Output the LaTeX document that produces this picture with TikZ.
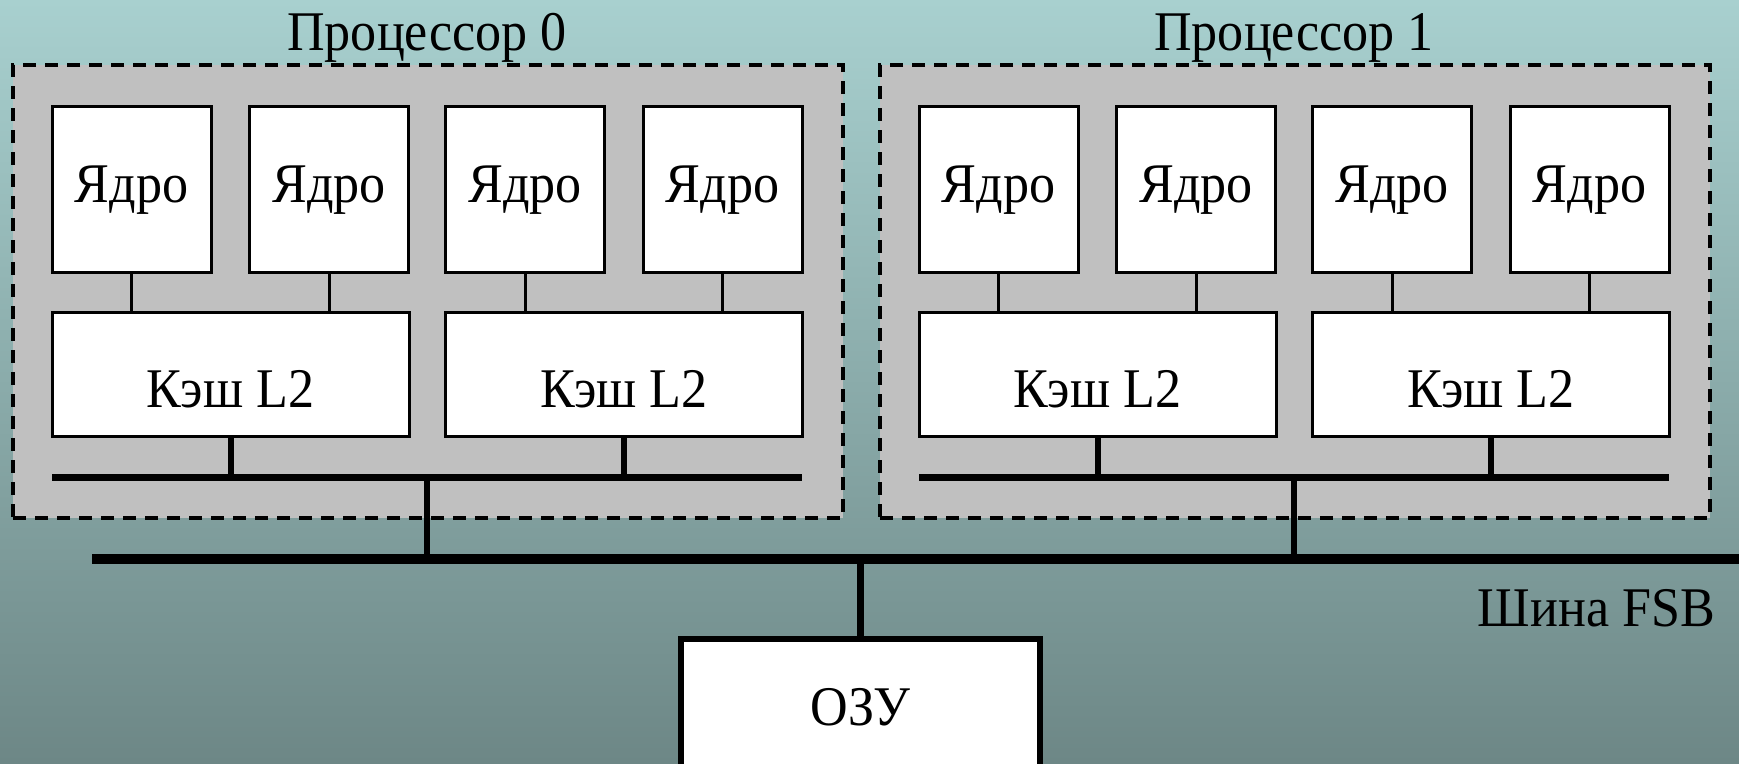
\documentclass[tikz,border=0pt]{standalone}
\usepackage{fontspec}
\setmainfont[FakeStretch=0.93]{Liberation Serif}
\definecolor{bgtop}{HTML}{A8D0CF}
\definecolor{bgbot}{HTML}{6D8786}
\definecolor{procgray}{HTML}{C0C0C0}
\begin{document}
\begin{tikzpicture}[x=1pt,y=-1pt,
  every node/.style={font=\fontsize{56}{62}\selectfont, inner sep=0pt, outer sep=0pt},
  procbox/.style={draw=black, fill=procgray, line width=4.5pt, dash pattern=on 13pt off 9pt, minimum width=830pt, minimum height=453pt},
  corebox/.style={draw=black, fill=white, line width=3pt, minimum width=159pt, minimum height=166pt, text height=36pt, text depth=10pt},
  cachebox/.style={draw=black, fill=white, line width=3pt, minimum width=357pt, minimum height=124pt, text height=66pt, text depth=0pt},
  rambox/.style={draw=black, fill=white, line width=6pt, minimum width=359pt, minimum height=162pt, text height=36pt, text depth=26pt},
  thinlink/.style={draw=black, line width=3pt},
  droplink/.style={draw=black, line width=6pt},
  busline/.style={draw=black, line width=7pt},
  fsbline/.style={draw=black, line width=10pt},
  lbl/.style={anchor=base}
]
\useasboundingbox (0,0) rectangle (1739,763);
\clip (0,0) rectangle (1739,763);
\shade[top color=bgtop, bottom color=bgbot] (0,0) rectangle (1739,763);

% FSB bus
\coordinate (fsbw) at (92,559);
\coordinate (fsbe) at (1739,559);

\foreach \p/\dx in {0/0,1/867}{
  \begin{scope}[shift={(\dx,0)}]
    \node[procbox] (P\p) at (428,291.5) {};
    \node[lbl] (P\p lbl) at (427,50) {Процессор \p};
    \node[corebox] (C\p a) at (131.5,189) {Ядро};
    \node[corebox] (C\p b) at (329,189) {Ядро};
    \node[corebox] (C\p c) at (525,189) {Ядро};
    \node[corebox] (C\p d) at (722.5,189) {Ядро};
    \node[cachebox] (L\p a) at (230.5,374) {Кэш L2};
    \node[cachebox] (L\p b) at (624,374) {Кэш L2};
    \draw[thinlink] (C\p a.south) -- (C\p a.south |- L\p a.north);
    \draw[thinlink] (C\p b.south) -- (C\p b.south |- L\p a.north);
    \draw[thinlink] (C\p c.south) -- (C\p c.south |- L\p b.north);
    \draw[thinlink] (C\p d.south) -- (C\p d.south |- L\p b.north);
    \coordinate (B\p w) at (52,477);
    \coordinate (B\p e) at (802,477);
    \coordinate (B\p m) at (427,477);
    \draw[droplink] (L\p a.south) -- (L\p a.south |- B\p w);
    \draw[droplink] (L\p b.south) -- (L\p b.south |- B\p w);
    \draw[busline] (B\p w) -- (B\p e);
    \draw[droplink] (B\p m) -- (B\p m |- fsbw);
  \end{scope}
}

\draw[fsbline] (fsbw) -- (fsbe);
\node[lbl, anchor=base east] (fsblbl) at (1715,626) {Шина FSB};

\node[rambox] (ram) at (860.5,720) {ОЗУ};
\draw[busline] (ram.north) -- (ram.north |- fsbw);
\end{tikzpicture}
\end{document}
